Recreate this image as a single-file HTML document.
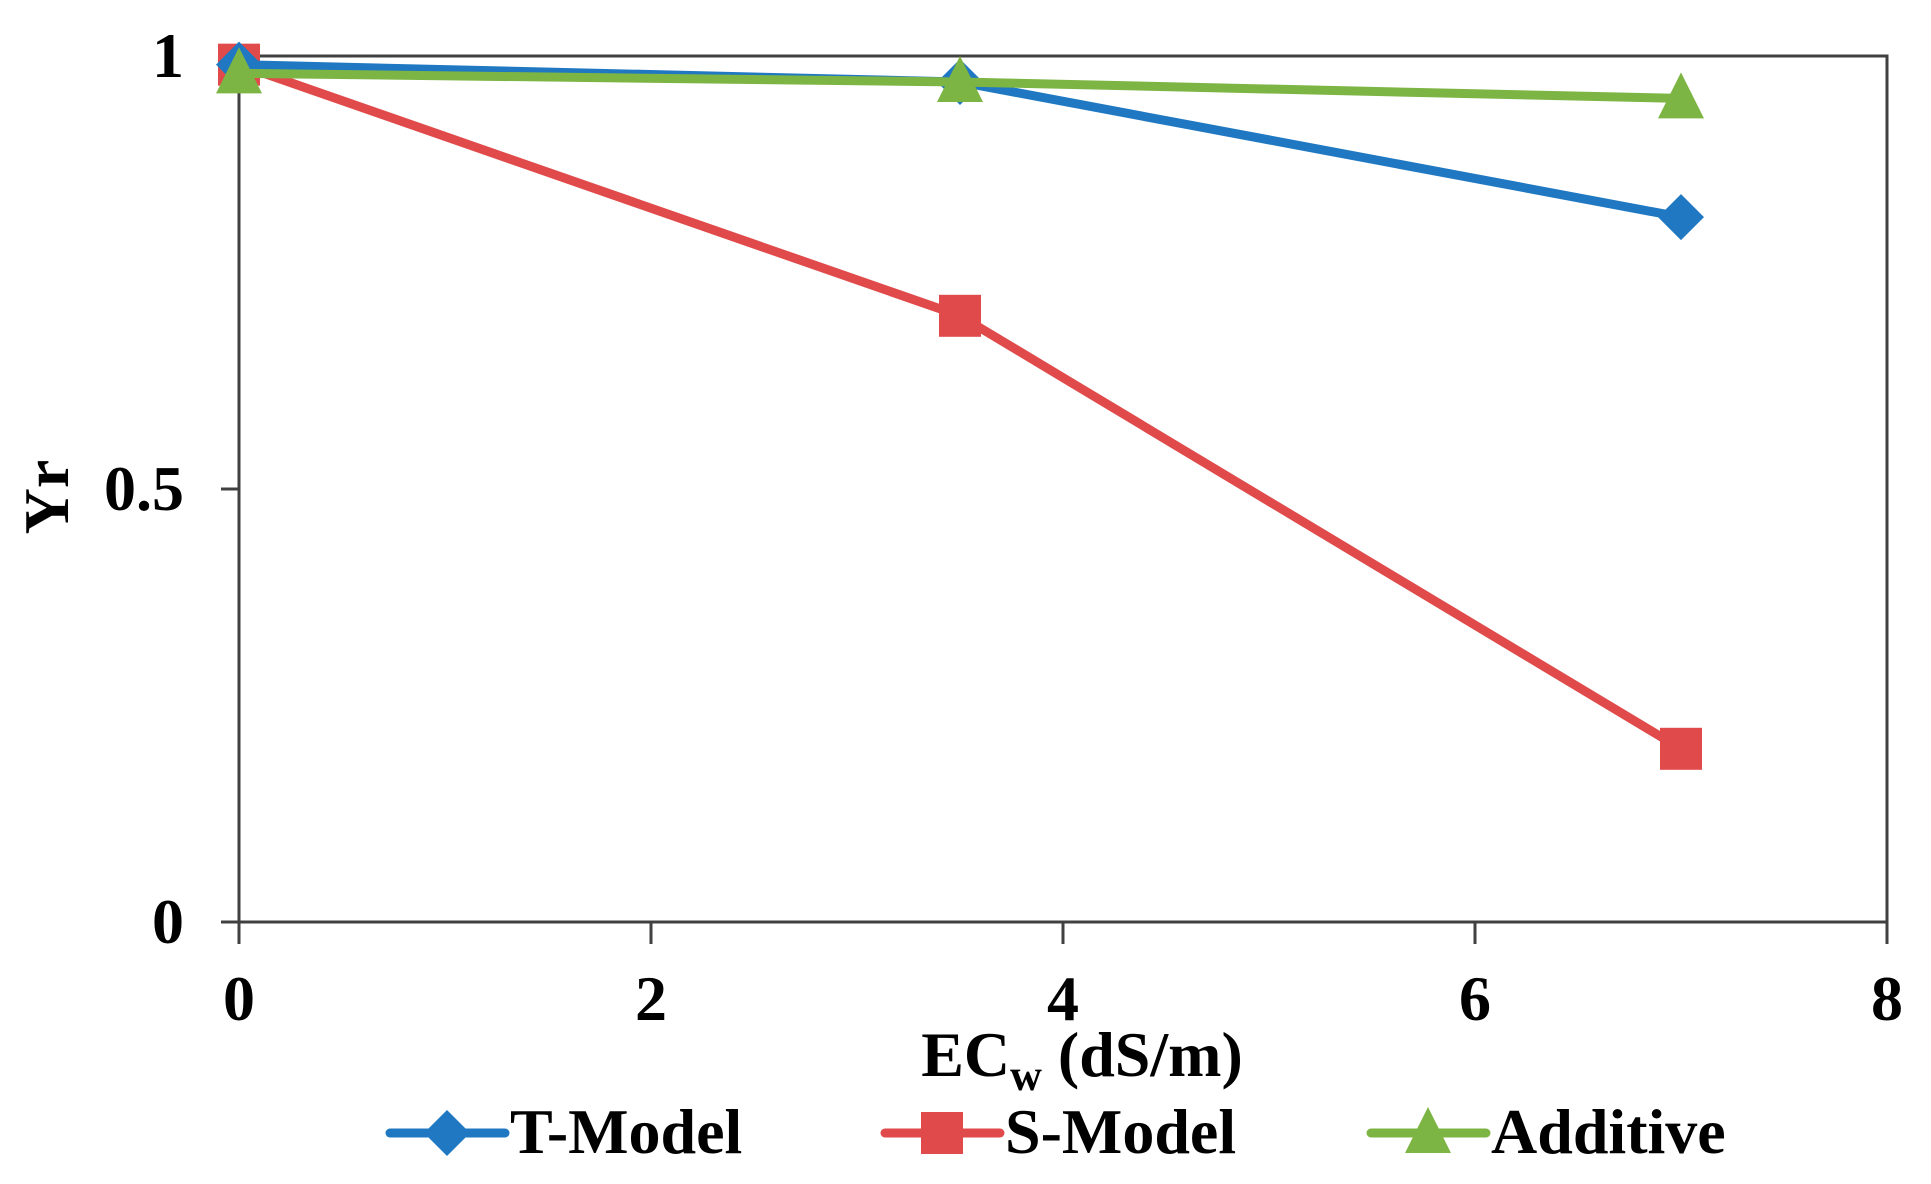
<!DOCTYPE html>
<html><head><meta charset="utf-8"><style>
html,body{margin:0;padding:0;background:#fff;width:1931px;height:1184px;overflow:hidden}
svg{display:block}
text{font-family:"Liberation Serif",serif;font-weight:bold;fill:#000}
</style></head><body>
<svg id="chart" width="1931" height="1184">
<g id="axes"></g>
<g id="series"></g>
<g id="legend"></g>
</svg>
<script>
const xValues = [0, 3.5, 7];
const tModel = [0.99, 0.97, 0.814];
const sModel = [0.99, 0.70, 0.20];
const additive = [0.98, 0.97, 0.951];
const xTicks = [0, 2, 4, 6, 8];
const yTicks = [0, 0.5, 1];
const yTickLabels = ["0", "0.5", "1"];

const L = 239, R = 1887, T = 56, B = 922;
const xs = v => L + v / 8 * (R - L);
const ys = v => B - v * (B - T);
const NS = "http://www.w3.org/2000/svg";
function mk(tag, attrs, parent) {
  const e = document.createElementNS(NS, tag);
  for (const k in attrs) e.setAttribute(k, attrs[k]);
  parent.appendChild(e);
  return e;
}
const axes = document.getElementById('axes');
const frame = mk('rect', {x: L, y: T, width: R - L, height: B - T, fill: 'none', stroke: '#404040', 'stroke-width': 3}, axes);


xTicks.forEach(v => {
  const t = mk('line', {x1: xs(v), x2: xs(v), y1: B, y2: B + 22, stroke: '#404040', 'stroke-width': 3}, axes);
  
  
  const lb = mk('text', {x: xs(v), y: 1020, 'font-size': 64, 'text-anchor': 'middle'}, axes);
  lb.textContent = String(v);
  
  
});
yTicks.forEach((v, i) => {
  const t = mk('line', {x1: L - 18, x2: L, y1: ys(v), y2: ys(v), stroke: '#404040', 'stroke-width': 3}, axes);
  
  
  const lb = mk('text', {x: 184, y: ys(v) + 21, 'font-size': 64, 'text-anchor': 'end'}, axes);
  lb.textContent = yTickLabels[i];
  
  
});
const xt = mk('text', {x: 1082, y: 1076, 'font-size': 64, 'text-anchor': 'middle'}, axes);
xt.innerHTML = 'EC<tspan font-size="44" dy="14">w</tspan><tspan dy="-14"> (dS/m)</tspan>';


const yt = mk('text', {x: 0, y: 0, 'font-size': 64, 'text-anchor': 'middle', transform: 'translate(68,497) rotate(-90)'}, axes);
yt.textContent = 'Yr';



function marker(kind, cx, cy, color, parent) {
  let e;
  if (kind === 'diamond') e = mk('polygon', {points: `${cx},${cy-23} ${cx+23},${cy} ${cx},${cy+23} ${cx-23},${cy}`, fill: color}, parent);
  else if (kind === 'square') e = mk('rect', {x: cx - 21, y: cy - 21, width: 42, height: 42, fill: color}, parent);
  else e = mk('polygon', {points: `${cx},${cy-26} ${cx+23},${cy+20} ${cx-23},${cy+20}`, fill: color}, parent);
  return e;
}
const seriesDefs = [
  {name: 'S-Model', data: sModel, color: '#E04A4A', kind: 'square', key: 's-model'},
  {name: 'T-Model', data: tModel, color: '#1F78C1', kind: 'diamond', key: 't-model'},
  {name: 'Additive', data: additive, color: '#7DB544', kind: 'triangle', key: 'additive'}
];
const sg = document.getElementById('series');
seriesDefs.forEach(s => {
  const pts = s.data.map((v, i) => xs(xValues[i]) + ',' + ys(v)).join(' ');
  const pl = mk('polyline', {points: pts, fill: 'none', stroke: s.color, 'stroke-width': 9, 'stroke-linejoin': 'round'}, sg);
  
  
  s.data.forEach((v, i) => {
    const m = marker(s.kind, xs(xValues[i]), ys(v), s.color, sg);
    
    
  });
});
const lg = document.getElementById('legend');
const legendPos = [{x: 390, key: 't-model', s: seriesDefs[1]}, {x: 885, key: 's-model', s: seriesDefs[0]}, {x: 1371, key: 'additive', s: seriesDefs[2]}];
legendPos.forEach(p => {
  const g = mk('g', {}, lg);
  
  
  mk('line', {x1: p.x, x2: p.x + 115, y1: 1133, y2: 1133, stroke: p.s.color, 'stroke-width': 9, 'stroke-linecap': 'round'}, g);
  marker(p.s.kind, p.x + 57, 1133, p.s.color, g);
  const t = mk('text', {x: p.x + 120, y: 1153, 'font-size': 64}, g);
  t.textContent = p.s.name;
});
</script>
</body></html>
